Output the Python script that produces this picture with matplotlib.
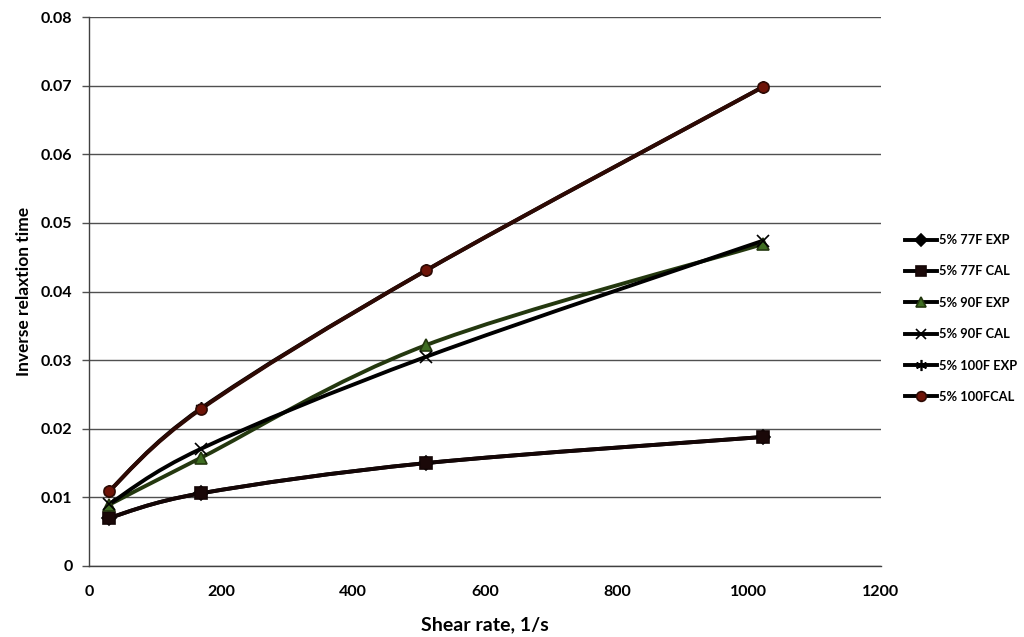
import matplotlib
matplotlib.use('Agg')
import matplotlib.pyplot as plt
from matplotlib.path import Path
from matplotlib.patches import PathPatch
from matplotlib.lines import Line2D

plt.rcParams['font.family'] = ['Lato', 'DejaVu Sans']

shear_rate = [30, 170, 511, 1021]

exp_77 = [0.007, 0.0106, 0.015, 0.0188]
cal_77 = [0.007, 0.0106, 0.015, 0.0188]
exp_90 = [0.0089, 0.0158, 0.0322, 0.0469]
cal_90 = [0.009, 0.0171, 0.0305, 0.0474]
exp_100 = [0.0109, 0.023, 0.0431, 0.0698]
cal_100 = [0.0109, 0.0229, 0.0431, 0.0698]

labels = ['5% 77F EXP', '5% 77F CAL', '5% 90F EXP', '5% 90F CAL',
          '5% 100F EXP', '5% 100FCAL']
series = [exp_77, cal_77, exp_90, cal_90, exp_100, cal_100]

# line colour, marker, marker face, marker size
styles = [
    ('#000000', 'D', '#000000', 7),
    ('#140606', 's', '#1a0808', 8),
    ('#24380f', '^', '#3f6e22', 8),
    ('#000000', 'x', '#000000', 8),
    ('#000000', (6, 2, 0), '#000000', 9),
    ('#2e0a04', 'o', '#6e1408', 8),
]


def smooth_path(xs, ys):
    # excel-like smoothed line: cubic bezier through the points
    pts = list(zip(xs, ys))
    n = len(pts)
    verts = [pts[0]]
    codes = [Path.MOVETO]
    for i in range(n - 1):
        p0 = pts[i - 1] if i > 0 else pts[i]
        p1 = pts[i]
        p2 = pts[i + 1]
        p3 = pts[i + 2] if i + 2 < n else pts[i + 1]
        c1 = (p1[0] + (p2[0] - p0[0]) / 6, p1[1] + (p2[1] - p0[1]) / 6)
        c2 = (p2[0] - (p3[0] - p1[0]) / 6, p2[1] - (p3[1] - p1[1]) / 6)
        verts += [c1, c2, p2]
        codes += [Path.CURVE4] * 3
    return Path(verts, codes)


fig = plt.figure(figsize=(10.24, 6.37), dpi=100)
ax = fig.add_axes([0.087, 0.1115, 0.773, 0.8615])

handles = []
for ys, lab, (lc, mk, mf, ms) in zip(series, labels, styles):
    ax.add_patch(PathPatch(smooth_path(shear_rate, ys), fill=False,
                           edgecolor=lc, linewidth=2.8, zorder=3,
                           capstyle='round', joinstyle='round'))
    ax.plot(shear_rate, ys, linestyle='none', marker=mk, markersize=ms,
            markerfacecolor=mf, markeredgecolor=lc,
            markeredgewidth=1.2, zorder=4)
    handles.append(Line2D([], [], color='#000000', linewidth=2.8, marker=mk,
                          markersize=ms - 1, markerfacecolor=mf,
                          markeredgecolor=lc, markeredgewidth=1.2, label=lab))

ax.set_xlim(0, 1200)
ax.set_ylim(0, 0.08)
ax.set_xticks(range(0, 1201, 200))
ax.set_yticks([0, 0.01, 0.02, 0.03, 0.04, 0.05, 0.06, 0.07, 0.08])
ax.set_yticklabels(['0', '0.01', '0.02', '0.03', '0.04', '0.05', '0.06', '0.07', '0.08'])
ax.yaxis.grid(True, color='#505050', linewidth=1.0)
ax.set_axisbelow(True)

for s in ['top', 'right']:
    ax.spines[s].set_visible(False)
for s in ['left', 'bottom']:
    ax.spines[s].set_color('#404040')
    ax.spines[s].set_linewidth(1.0)

ax.tick_params(axis='y', length=5, width=1.0, color='#505050', pad=7, labelsize=11.5)
ax.tick_params(axis='x', length=0, pad=14, labelsize=11.5)
for t in ax.get_xticklabels() + ax.get_yticklabels():
    t.set_fontweight('bold')

ax.set_xlabel('Shear rate, 1/s', fontsize=14, fontweight='bold', labelpad=12)
ax.set_ylabel('Inverse relaxtion time', fontsize=12.5, fontweight='bold', labelpad=6)

leg = fig.legend(handles=handles, loc='center left', bbox_to_anchor=(0.872, 0.5),
                 frameon=False, fontsize=9.3, handlelength=2.5, handletextpad=0.2,
                 labelspacing=1.5)
for t in leg.get_texts():
    t.set_fontweight('bold')

fig.savefig('out.png', dpi=100)
